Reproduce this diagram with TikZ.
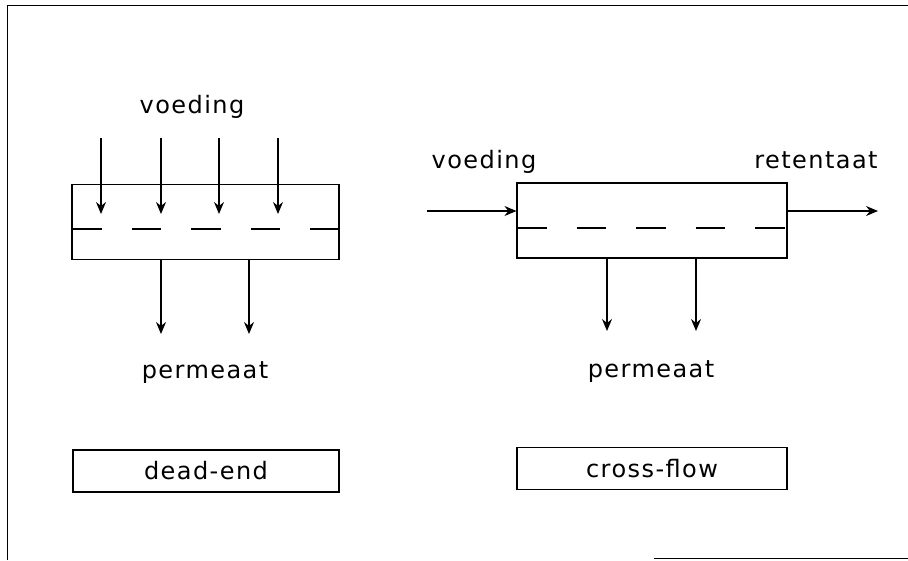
\documentclass[tikz,border=0pt]{standalone}
\usepackage{fontspec}
\setmainfont{DejaVu Sans}[LetterSpace=6]
\usetikzlibrary{arrows.meta,positioning}

\begin{document}
\begin{tikzpicture}[x=1pt, y=-1pt,
    vessel/.style={draw, rectangle, line width=1.1pt, inner sep=0pt,
                   minimum height=75pt},
    caption/.style={draw, rectangle, line width=1.1pt, inner sep=0pt,
                    minimum height=42pt, font=\flowfont},
    flowtext/.style={anchor=base, inner sep=0pt, font=\flowfont},
    flow/.style={-{Stealth[length=12pt,width=10pt,inset=4pt]}, line width=1.1pt},
    membrane/.style={line width=1.1pt, dash pattern=on 29.5pt off 30pt},
    frame/.style={line width=0.9pt}
]
\newcommand{\flowfont}{\fontsize{24}{28}\selectfont}
\useasboundingbox (0,0) rectangle (908,560);

% outer frame (partly visible)
\draw[frame] (7,560) -- (7,5) -- (908,5);
\draw[frame] (654,558) -- (908,558);

% dead-end filtration
\node[vessel, minimum width=267pt] (de) at (205.5,222) {};
\draw[membrane] (72,229) -- (339,229);
\node[flowtext] (devoed) at (192,113) {voeding};
\foreach \x [count=\i] in {101,161,219,278} {
  \coordinate (dein\i) at (\x,138);
  \draw[flow] (dein\i) -- ++(0,76);
}
\coordinate (deout1) at (161,334);
\coordinate (deout2) at (249,334);
\draw[flow] (deout1 |- de.south) -- (deout1);
\draw[flow] (deout2 |- de.south) -- (deout2);
\node[flowtext] (deperm) at (205,378) {permeaat};
\node[caption, minimum width=266pt] (dename) at (206,471) {dead-end};

% cross-flow filtration
\node[vessel, minimum width=270pt] (cf) at (652,220.5) {};
\draw[membrane] (517,228) -- (787,228);
\node[flowtext] (cfvoed) at (484,168) {voeding};
\node[flowtext] (cfret) at (816,168) {retentaat};
\coordinate (cfin) at (427,211);
\coordinate (cfret end) at (878,211);
\draw[flow] (cfin) -- (cfin -| cf.west);
\draw[flow] (cfret end -| cf.east) -- (cfret end);
\coordinate (cfout1) at (607,331);
\coordinate (cfout2) at (696,331);
\draw[flow] (cfout1 |- cf.south) -- (cfout1);
\draw[flow] (cfout2 |- cf.south) -- (cfout2);
\node[flowtext] (cfperm) at (651,377) {permeaat};
\node[caption, minimum width=270pt] (cfname) at (652,468.5) {cross-flow};
\end{tikzpicture}
\end{document}
